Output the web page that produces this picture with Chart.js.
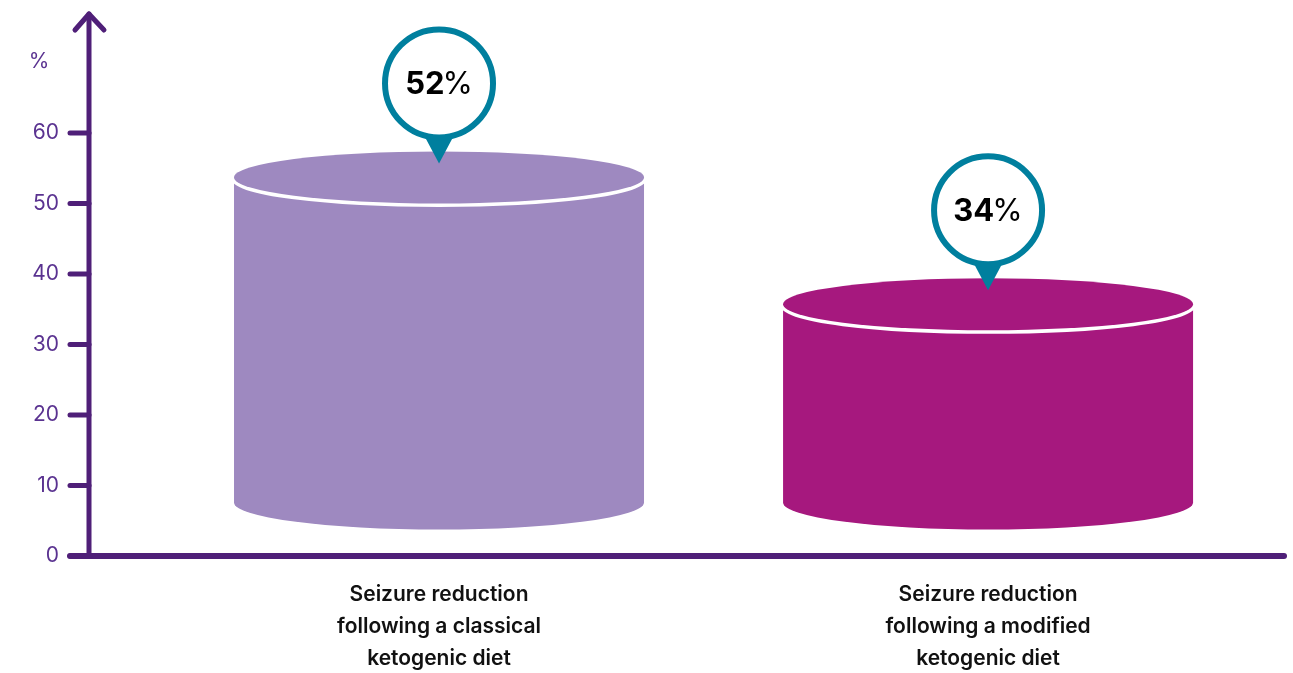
<!DOCTYPE html>
<html><head><meta charset="utf-8">
<script src="https://cdn.jsdelivr.net/npm/chart.js@4.4.1/dist/chart.umd.min.js"></script>
<style>html,body{margin:0;padding:0;background:#fff;overflow:hidden}canvas{display:block}</style>
</head><body>
<canvas id="c" width="1293" height="673"></canvas>
<script>
const categories = [
  ['Seizure reduction', 'following a classical', 'ketogenic diet'],
  ['Seizure reduction', 'following a modified', 'ketogenic diet']
];
const values = [52, 34];
const barColors = ['#9e89c0', '#a6187e'];
const yTickValues = [0, 10, 20, 30, 40, 50, 60];
const yUnit = '%';

const AXIS = '#4f1f78';
const TICK_TEXT = '#5a3290';
const TEAL = '#007f9e';
const FONT = 'Inter, "Open Sans", sans-serif';

const cylinderPlugin = {
  id: 'cylinders',
  beforeDatasetDraw() { return false; },
  afterDraw(chart) {
    const ctx = chart.ctx;
    const ys = chart.scales.y;
    const area = chart.chartArea;
    const meta = chart.getDatasetMeta(0);
    ctx.save();
    meta.data.forEach((bar, i) => {
      const cx = bar.x, rx = bar.width / 2, ry = 26;
      const topC = bar.y - 12;
      const botC = bar.base - 53;
      const col = bar.options.backgroundColor;
      // body
      ctx.fillStyle = col;
      ctx.beginPath();
      ctx.moveTo(cx - rx, topC);
      ctx.lineTo(cx - rx, botC);
      ctx.ellipse(cx, botC, rx, 27, 0, Math.PI, 0, true);
      ctx.lineTo(cx + rx, topC);
      ctx.closePath();
      ctx.fill();
      // rim
      ctx.beginPath();
      ctx.ellipse(cx, topC, rx, ry, 0, 0, Math.PI * 2);
      ctx.lineWidth = 7;
      ctx.strokeStyle = '#ffffff';
      ctx.stroke();
      ctx.fillStyle = col;
      ctx.fill();
      // bubble
      const tipY = topC - 14;
      const cy = tipY - 80;
      ctx.fillStyle = TEAL;
      ctx.beginPath();
      ctx.moveTo(cx - 17, cy + 48);
      ctx.lineTo(cx + 17, cy + 48);
      ctx.lineTo(cx, tipY);
      ctx.closePath();
      ctx.fill();
      ctx.beginPath();
      ctx.arc(cx, cy, 54, 0, Math.PI * 2);
      ctx.fillStyle = '#ffffff';
      ctx.fill();
      ctx.lineWidth = 6;
      ctx.strokeStyle = TEAL;
      ctx.stroke();
      // text
      const num = String(values[i]);
      ctx.textBaseline = 'middle';
      ctx.textAlign = 'left';
      ctx.font = 'bold 31px ' + FONT;
      const w1 = ctx.measureText(num).width;
      ctx.font = '31px ' + FONT;
      const w2 = ctx.measureText('%').width;
      const gap = -2;
      const sx = cx - (w1 + w2 + gap) / 2;
      ctx.fillStyle = '#000000';
      ctx.font = 'bold 31px ' + FONT;
      ctx.fillText(num, sx, cy + 1);
      ctx.font = '31px ' + FONT;
      ctx.fillText('%', sx + w1 + gap, cy + 1);
    });
    // axes
    ctx.strokeStyle = AXIS;
    ctx.lineCap = 'round';
    ctx.lineJoin = 'round';
    ctx.lineWidth = 5;
    ys.ticks.forEach(t => {
      const y = ys.getPixelForValue(t.value);
      ctx.beginPath();
      ctx.moveTo(area.left - 19, y);
      ctx.lineTo(area.left, y);
      ctx.stroke();
    });
    ctx.beginPath();
    ctx.moveTo(area.left, area.bottom);
    ctx.lineTo(area.left, 14);
    ctx.stroke();
    ctx.beginPath();
    ctx.moveTo(area.left - 14, 30);
    ctx.lineTo(area.left, 14);
    ctx.lineTo(area.left + 15, 30);
    ctx.stroke();
    ctx.lineWidth = 6;
    ctx.beginPath();
    ctx.moveTo(area.left - 19, area.bottom);
    ctx.lineTo(area.right, area.bottom);
    ctx.stroke();
    ctx.fillStyle = TICK_TEXT;
    ctx.font = '21px ' + FONT;
    ctx.textAlign = 'center';
    ctx.textBaseline = 'middle';
    ctx.fillText(yUnit, 39, 62);
    ctx.restore();
  }
};

new Chart(document.getElementById('c'), {
  type: 'bar',
  data: {
    datasets: [{
      data: values.map((v, i) => ({ x: i, y: v })),
      backgroundColor: barColors,
      barThickness: 410
    }]
  },
  options: {
    responsive: false,
    animation: false,
    devicePixelRatio: 1,
    layout: { padding: { top: 133, right: 9, left: 0, bottom: 0 } },
    plugins: { legend: { display: false }, tooltip: { enabled: false } },
    scales: {
      x: {
        type: 'linear',
        offset: false,
        min: -0.6375,
        max: 1.539,
        afterBuildTicks: s => { s.ticks = categories.map((c, i) => ({ value: i })); },
        afterFit: s => { s.height = 117; },
        grid: { display: false, drawTicks: false },
        border: { display: false },
        ticks: {
          padding: 23,
          color: '#111111',
          maxRotation: 0,
          autoSkip: false,
          font: { family: FONT, size: 21, weight: '600', lineHeight: 1.52 },
          callback: v => categories[v]
        }
      },
      y: {
        min: 0,
        max: 60,
        afterBuildTicks: s => { s.ticks = yTickValues.map(v => ({ value: v })); },
        afterFit: s => { s.width = 89; },
        grid: { display: true, drawOnChartArea: false, tickLength: 20, color: 'rgba(0,0,0,0)' },
        border: { display: false },
        ticks: { padding: 10, color: TICK_TEXT, font: { family: FONT, size: 21 } }
      }
    }
  },
  plugins: [cylinderPlugin]
});
</script>
</body></html>
